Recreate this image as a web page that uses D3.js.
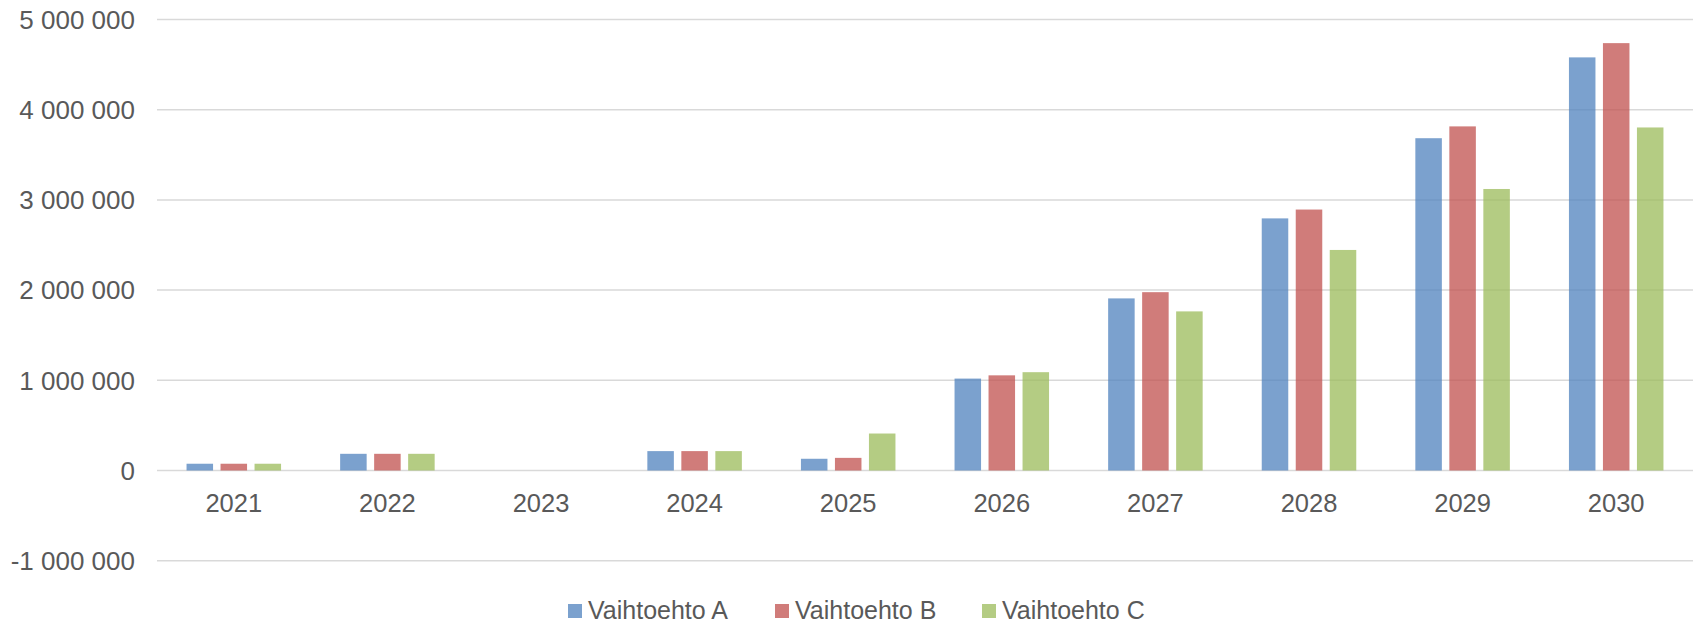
<!DOCTYPE html>
<html>
<head>
<meta charset="utf-8">
<script src="https://cdn.jsdelivr.net/npm/d3@7"></script>
<style>
  body { margin: 0; background: #fff; }
  text { font-family: "Liberation Sans", Arial, sans-serif; fill: #595959; }
</style>
</head>
<body>
<svg id="chart" width="1696" height="624"></svg>
<script>
// data
var years = ["2021","2022","2023","2024","2025","2026","2027","2028","2029","2030"]
var keys = ["Vaihtoehto A","Vaihtoehto B","Vaihtoehto C"]
var vaihtoehtoA = [75000, 185000, 0, 215000, 130000, 1019000, 1908000, 2795000, 3684000, 4580000]
var vaihtoehtoB = [75000, 185000, 0, 215000, 140000, 1055000, 1977000, 2893000, 3815000, 4738000]
var vaihtoehtoC = [75000, 185000, 0, 215000, 410000, 1090000, 1764000, 2445000, 3121000, 3803000]
var yTicks = [-1000000, 0, 1000000, 2000000, 3000000, 4000000, 5000000]

var series = [vaihtoehtoA, vaihtoehtoB, vaihtoehtoC]
var colors = ["#4f81bd", "#c0504d", "#9bbb59"]

var svg = d3.select("#chart")
var plotLeft = 157, plotRight = 1693, plotTop = 19.5, plotBottom = 560.7

var x0 = d3.scaleBand().domain(years).range([plotLeft, plotRight])
var cw = x0.bandwidth()
var x1 = d3.scaleBand().domain(keys)
	.range([cw / 2 - 51, cw / 2 + 51])
	.paddingInner(0.22).paddingOuter(0.11)
var y = d3.scaleLinear().domain([-1000000, 5000000]).range([plotBottom, plotTop])

// spaces as thousands separator, plain hyphen for minus
var fmt = function(d) { return d3.format(",")(d).replace(/,/g, " ").replace("\u2212", "-") }

// gridlines
svg.append("g").selectAll("line")
	.data(yTicks)
	.enter().append("line")
	.attr("x1", plotLeft).attr("x2", plotRight)
	.attr("y1", function(d) { return y(d) }).attr("y2", function(d) { return y(d) })
	.attr("stroke", "#d9d9d9")
	.attr("stroke-width", 1.5)

// y labels
svg.append("g").selectAll("text")
	.data(yTicks)
	.enter().append("text")
	.attr("x", 135)
	.attr("y", function(d) { return y(d) })
	.attr("dy", "0.36em")
	.attr("text-anchor", "end")
	.attr("font-size", "26px")
	.text(fmt)

// bars
var groups = svg.append("g").selectAll("g")
	.data(years)
	.enter().append("g")
	.attr("transform", function(d) { return "translate(" + x0(d) + ",0)" })

groups.selectAll("rect")
	.data(function(d, i) { return keys.map(function(k, j) { return { key: k, value: series[j][i], j: j } }) })
	.enter().append("rect")
	.attr("x", function(d) { return x1(d.key) })
	.attr("width", x1.bandwidth())
	.attr("y", function(d) { return y(Math.max(0, d.value)) })
	.attr("height", function(d) { return Math.abs(y(d.value) - y(0)) })
	.attr("fill", function(d) { return colors[d.j] })
	.attr("fill-opacity", 0.75)

// x labels
svg.append("g").selectAll("text")
	.data(years)
	.enter().append("text")
	.attr("x", function(d) { return x0(d) + cw / 2 })
	.attr("y", 503)
	.attr("dy", "0.36em")
	.attr("text-anchor", "middle")
	.attr("font-size", "25.5px")
	.text(function(d) { return d })

// legend
var legendX = [568, 775, 982]
var legend = svg.append("g").selectAll("g")
	.data(keys)
	.enter().append("g")
	.attr("transform", function(d, i) { return "translate(" + legendX[i] + ",610)" })

legend.append("rect")
	.attr("x", 0).attr("y", -6)
	.attr("width", 14).attr("height", 14)
	.attr("fill", function(d, i) { return colors[i] })
	.attr("fill-opacity", 0.75)

legend.append("text")
	.attr("x", 20)
	.attr("dy", "0.36em")
	.attr("font-size", "25px")
	.text(function(d) { return d })
</script>
</body>
</html>
